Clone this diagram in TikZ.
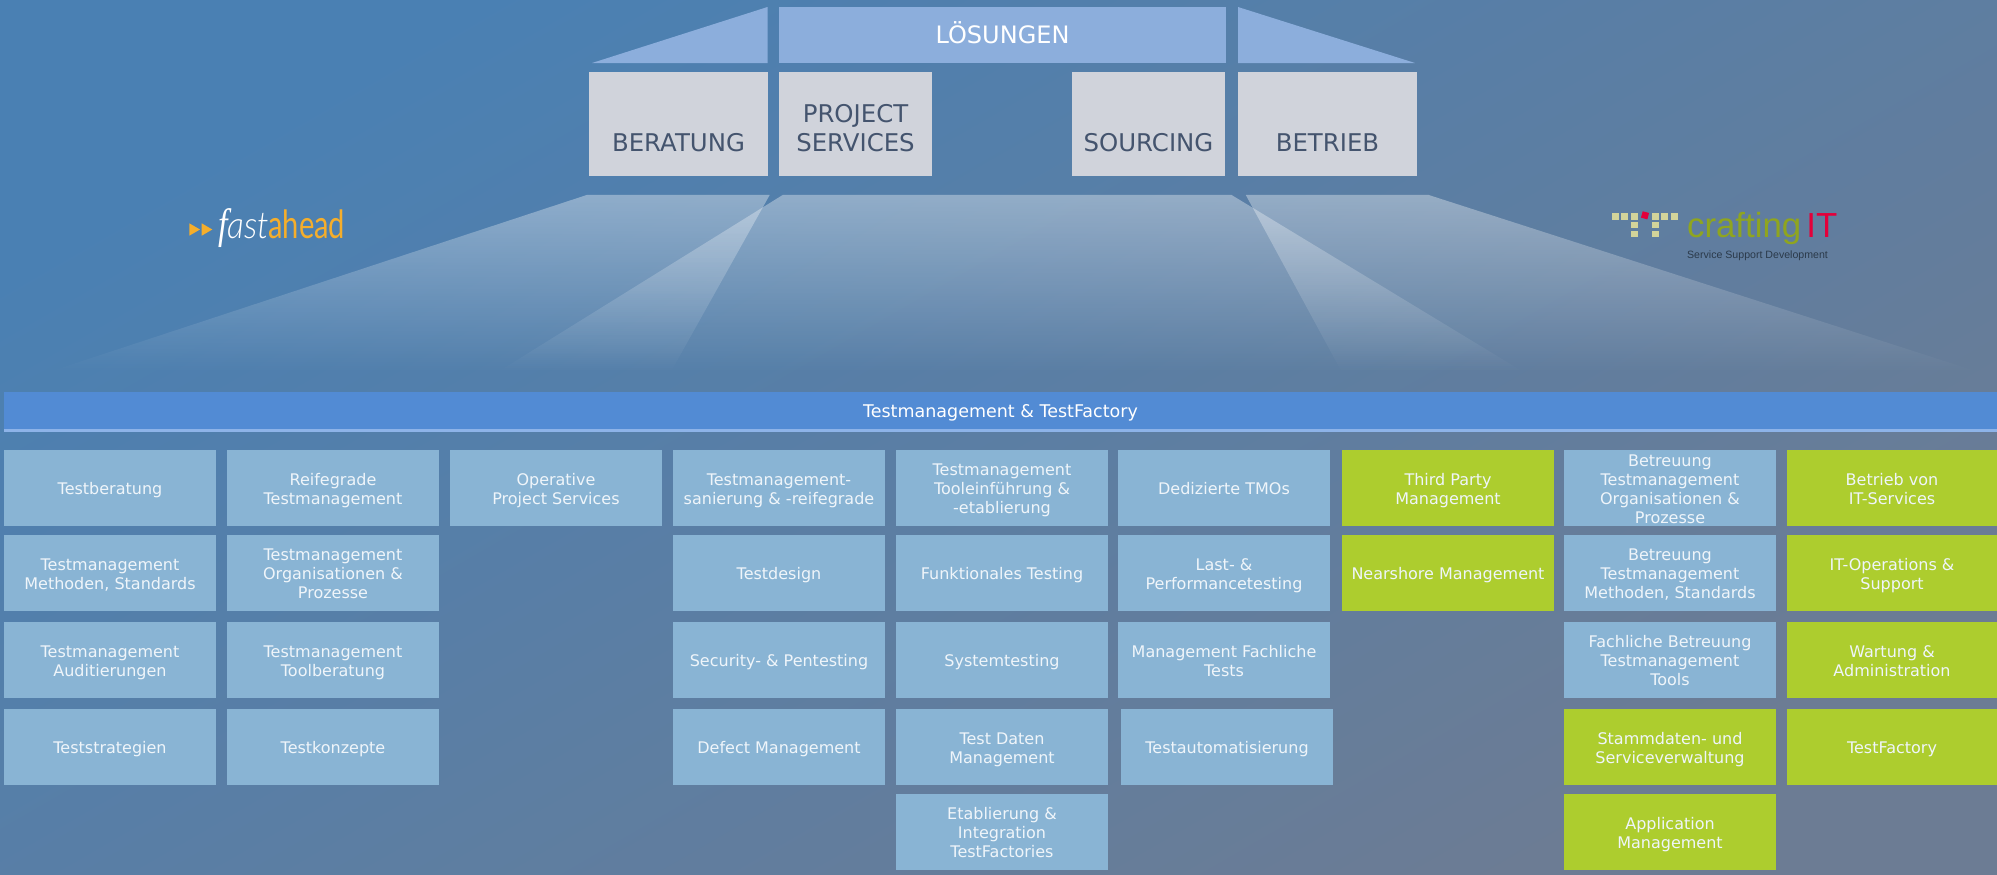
\documentclass[tikz,border=0pt]{standalone}
\usepackage{fontspec}
\setmainfont{DejaVu Sans}
\newfontfamily\logofont{Lato}
\newfontfamily\logolight{Lato Light}
\newfontfamily\serifit{Liberation Serif}
\newfontfamily\arialfont{Liberation Sans}
\usetikzlibrary{fadings}
\definecolor{bgA}{HTML}{4A80B3}
\definecolor{bgM}{HTML}{5680A5}
\definecolor{bgB}{HTML}{6C7C94}
\definecolor{roofC}{HTML}{8CAEDC}
\definecolor{headC}{HTML}{D0D3DB}
\definecolor{headT}{HTML}{44546E}
\definecolor{bandC}{HTML}{528BD4}
\definecolor{stripC}{HTML}{8DB3E8}
\definecolor{tileC}{HTML}{89B4D4}
\definecolor{greenC}{HTML}{ADCD2E}
\definecolor{tileT}{HTML}{EFF5FA}
\definecolor{orangeC}{HTML}{F5AE2B}
\definecolor{dotC}{HTML}{D3D49A}
\definecolor{redC}{HTML}{E4003A}
\definecolor{oliveC}{HTML}{8FA51F}
\definecolor{subC}{HTML}{2B3A4A}
\tikzfading[name=beamfade, top color=transparent!64, bottom color=transparent!100]
\newcommand{\tl}[1]{\raisebox{-1.5pt}[\height][\depth]{\begin{tabular}{@{}c@{}}#1\end{tabular}}}
\newcommand{\hd}[1]{\raisebox{-13.5pt}[0pt][0pt]{\begin{tabular}[b]{@{}c@{}}#1\end{tabular}}}
\tikzset{
  tile/.style={fill=tileC,text=tileT,minimum width=106pt,minimum height=38pt,inner sep=0pt,
    font=\fontsize{8}{9.5}\selectfont},
  gtile/.style={tile,fill=greenC},
  head/.style={fill=headC,text=headT,minimum height=52pt,inner sep=0pt,
    font=\fontsize{12.2}{14.5}\selectfont},
  beam/.style={white,path fading=beamfade},
  dot/.style={fill=dotC,minimum size=3.3pt,inner sep=0pt},
}
\begin{document}
\begin{tikzpicture}[x=0.5pt,y=-0.5pt]
\useasboundingbox (0,0) rectangle (1997,874);
\shade[top color=bgA,middle color=bgM,bottom color=bgB,shading angle=30] (0,0) rectangle (1997,874);
% roof
\fill[roofC] (592,63) -- (767.5,7) -- (767.5,63) -- cycle;
\fill[roofC] (1238,7) -- (1415,63) -- (1238,63) -- cycle;
\node[fill=roofC,text=white,minimum width=223.5pt,minimum height=28pt,inner sep=0pt,
  font=\fontsize{12}{14}\selectfont] (loesungen) at (1002.5,35) {\raisebox{-4.3pt}[0pt][0pt]{LÖSUNGEN}};
% head boxes
\node[head,minimum width=89.5pt] (beratung) at (678.5,124) {\hd{BERATUNG}};
\node[head,minimum width=76.5pt] (project) at (855.5,124) {\hd{PROJECT\\SERVICES}};
\node[head,minimum width=76.5pt] (sourcing) at (1148.5,124) {\hd{SOURCING}};
\node[head,minimum width=89.5pt] (betrieb) at (1327.5,124) {\hd{BETRIEB}};
% beams
\fill[beam] (587,195) -- (770,195) -- (671,372) -- (49,372) -- cycle;
\fill[beam] (783,195) -- (1232,195) -- (1524,372) -- (498,372) -- cycle;
\fill[beam] (1246,195) -- (1429,195) -- (1979,372) -- (1342,372) -- cycle;
% fastahead logo
\fill[orangeC] (189.3,223.3) -- (200,229.5) -- (189.3,235.7) -- cycle;
\fill[orangeC] (201.7,223.3) -- (212.3,229.5) -- (201.7,235.7) -- cycle;
\node[anchor=base west,inner sep=0pt,text=white] (fast) at (218,238)
  {\scalebox{1}[1.25]{\serifit\itshape\fontsize{17}{18}\selectfont f}\scalebox{1.12}[1.25]{\logolight\itshape\fontsize{15}{18}\selectfont ast}};
\node[anchor=base west,inner sep=0pt,text=orangeC] (ahead) at (268,238)
  {\scalebox{0.97}[1.3]{\logofont\fontsize{15}{18}\selectfont ahead}};
% craftingIT logo
\node[dot] (d1) at (1615.3,216.7) {};
\node[dot] (d2) at (1624.7,216.7) {};
\node[dot] (d3) at (1634.3,216.7) {};
\node[dot] (d4) at (1655.3,216.7) {};
\node[dot] (d5) at (1664.7,216.7) {};
\node[dot] (d6) at (1674.3,216.7) {};
\node[dot] (d7) at (1634.3,225) {};
\node[dot] (d8) at (1655.3,225) {};
\node[dot] (d9) at (1634.3,234) {};
\node[dot] (d10) at (1655.3,234) {};
\node[dot,fill=redC,rotate=-15] (d11) at (1645,215.3) {};
\node[anchor=base west,inner sep=0pt,text=oliveC,font=\arialfont\fontsize{17.4}{20}\selectfont] (crafting) at (1686.7,237.3) {crafting};
\node[anchor=base west,inner sep=0pt,text=redC,font=\arialfont\fontsize{17.4}{20}\selectfont] (it) at (1806,237.3) {IT};
\node[anchor=base west,inner sep=0pt,text=subC,font=\arialfont\fontsize{5.3}{7}\selectfont] (sub) at (1686.7,258) {Service Support Development};
% banner
\fill[stripC] (4,429) rectangle (1997,432);
\node[fill=bandC,text=white,minimum width=996.5pt,minimum height=18.5pt,inner sep=0pt,
  font=\fontsize{8.75}{10}\selectfont] (banner) at (1000.5,410.5) {\raisebox{-3.7pt}[0pt][0pt]{Testmanagement \& TestFactory}};
% column 1
\node[tile] (a1) at (110,488) {\tl{Testberatung}};
\node[tile] (a2) at (110,573) {\tl{Testmanagement\\Methoden, Standards}};
\node[tile] (a3) at (110,660) {\tl{Testmanagement\\Auditierungen}};
\node[tile] (a4) at (110,747) {\tl{Teststrategien}};
% column 2
\node[tile] (b1) at (333,488) {\tl{Reifegrade\\Testmanagement}};
\node[tile] (b2) at (333,573) {\tl{Testmanagement\\Organisationen \&\\Prozesse}};
\node[tile] (b3) at (333,660) {\tl{Testmanagement\\Toolberatung}};
\node[tile] (b4) at (333,747) {\tl{Testkonzepte}};
% column 3
\node[tile] (c1) at (556,488) {\tl{Operative\\Project Services}};
% column 4
\node[tile] (e1) at (779,488) {\tl{Testmanagement-\\sanierung \& -reifegrade}};
\node[tile] (e2) at (779,573) {\tl{Testdesign}};
\node[tile] (e3) at (779,660) {\tl{Security- \& Pentesting}};
\node[tile] (e4) at (779,747) {\tl{Defect Management}};
% column 5
\node[tile] (f1) at (1002,488) {\tl{Testmanagement\\Tooleinführung \&\\-etablierung}};
\node[tile] (f2) at (1002,573) {\tl{Funktionales Testing}};
\node[tile] (f3) at (1002,660) {\tl{Systemtesting}};
\node[tile] (f4) at (1002,747) {\tl{Test Daten\\Management}};
\node[tile] (f5) at (1002,832) {\tl{Etablierung \&\\Integration\\TestFactories}};
% column 6
\node[tile] (g1) at (1224,488) {\tl{Dedizierte TMOs}};
\node[tile] (g2) at (1224,573) {\tl{Last- \&\\Performancetesting}};
\node[tile] (g3) at (1224,660) {\tl{Management Fachliche\\Tests}};
\node[tile] (g4) at (1227,747) {\tl{Testautomatisierung}};
% column 7
\node[gtile] (h1) at (1448,488) {\tl{Third Party\\Management}};
\node[gtile] (h2) at (1448,573) {\tl{Nearshore Management}};
% column 8
\node[tile] (i1) at (1670,488) {\tl{Betreuung\\Testmanagement\\Organisationen \&\\Prozesse}};
\node[tile] (i2) at (1670,573) {\tl{Betreuung\\Testmanagement\\Methoden, Standards}};
\node[tile] (i3) at (1670,660) {\tl{Fachliche Betreuung\\Testmanagement\\Tools}};
\node[gtile] (i4) at (1670,747) {\tl{Stammdaten- und\\Serviceverwaltung}};
\node[gtile] (i5) at (1670,832) {\tl{Application\\Management}};
% column 9
\node[gtile,minimum width=105pt] (j1) at (1892,488) {\tl{Betrieb von\\IT-Services}};
\node[gtile,minimum width=105pt] (j2) at (1892,573) {\tl{IT-Operations \&\\Support}};
\node[gtile,minimum width=105pt] (j3) at (1892,660) {\tl{Wartung \&\\Administration}};
\node[gtile,minimum width=105pt] (j4) at (1892,747) {\tl{TestFactory}};
\end{tikzpicture}
\end{document}
